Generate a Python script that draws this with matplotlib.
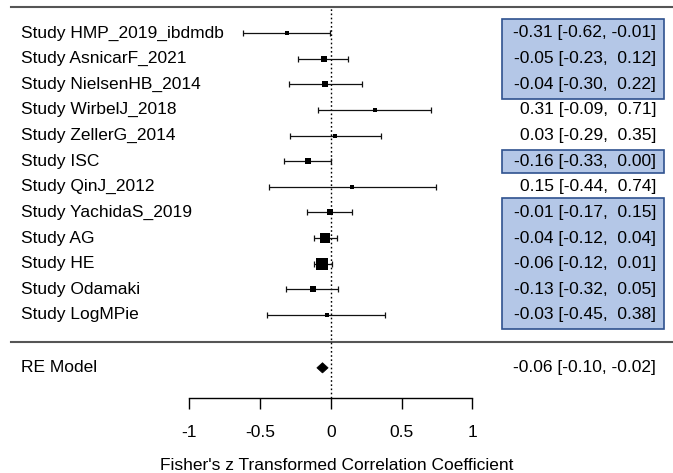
import numpy as np
import matplotlib
matplotlib.use("Agg")
import matplotlib.pyplot as plt
from matplotlib.patches import Rectangle, Polygon

plt.rcParams['font.family'] = ['Liberation Sans', 'DejaVu Sans']
plt.rcParams['axes.unicode_minus'] = False

studies = ["HMP_2019_ibdmdb", "AsnicarF_2021", "NielsenHB_2014", "WirbelJ_2018",
           "ZellerG_2014", "ISC", "QinJ_2012", "YachidaS_2019", "AG", "HE",
           "Odamaki", "LogMPie"]
est = [-0.31, -0.05, -0.04, 0.31, 0.03, -0.16, 0.15, -0.01, -0.04, -0.06, -0.13, -0.03]
lower = [-0.62, -0.23, -0.30, -0.09, -0.29, -0.33, -0.44, -0.17, -0.12, -0.12, -0.32, -0.45]
upper = [-0.01, 0.12, 0.22, 0.71, 0.35, 0.00, 0.74, 0.15, 0.04, 0.01, 0.05, 0.38]

re_label = "RE Model"
re_est, re_lower, re_upper = -0.06, -0.10, -0.02

# studies highlighted with the blue boxes
highlight_groups = [
    ["HMP_2019_ibdmdb", "AsnicarF_2021", "NielsenHB_2014"],
    ["ISC"],
    ["YachidaS_2019", "AG", "HE", "Odamaki", "LogMPie"],
]

x_ticks = [-1, -0.5, 0, 0.5, 1]
x_label = "Fisher's z Transformed Correlation Coefficient"

FS = 12.5


def fmt(e, l, u):
    return "%.2f [%5.2f, %5.2f]" % (e, l, u)


def main():
    fig = plt.figure(figsize=(6.73, 4.73), dpi=100)
    ax = fig.add_axes([0, 0, 1, 1])
    ax.set_xlim(-2.339, 2.417)
    ax.set_ylim(-5.162, 13.285)

    k = len(studies)
    rows = np.arange(k, 0, -1)
    est_a = np.array(est)
    lo_a = np.array(lower)
    up_a = np.array(upper)

    # square size from precision (1/se)
    prec = 3.92 / (up_a - lo_a)
    size_px = 3.6 + (prec - prec.min()) / (prec.max() - prec.min()) * 9

    # boxes
    row_of = dict(zip(studies, rows))
    for grp in highlight_groups:
        rr = [row_of[s] for s in grp]
        pad = 0.45 if len(rr) == 1 else 0.56
        top = max(rr) + pad
        bot = min(rr) - pad
        ax.add_patch(Rectangle((1.208, bot), 2.353 - 1.208, top - bot,
                               facecolor='#b4c7e7', edgecolor='#2f528f',
                               linewidth=1.2, zorder=1))

    # horizontal rules
    ax.plot([-2.26, 2.417], [k + 1, k + 1], color='#555555', lw=1.5, zorder=2)
    ax.plot([-2.26, 2.417], [-0.05, -0.05], color='#555555', lw=1.5, zorder=2)

    # reference line
    ax.plot([0, 0], [-2.24, k + 1], color='black', lw=1, linestyle=(0, (1.2, 1.8)), zorder=2)

    ax.errorbar(est_a, rows, xerr=[est_a - lo_a, up_a - est_a], fmt='none',
                ecolor='#111111', elinewidth=0.9, capsize=2.3, capthick=0.9, zorder=3)
    for x, y, s in zip(est_a, rows, size_px):
        ax.plot(x, y, marker='s', markersize=s * 0.72, color='black',
                markeredgewidth=0, zorder=4)

    h = 0.2
    ax.add_patch(Polygon([(re_lower, -1.06), (re_est, -1.06 + h), (re_upper, -1.06), (re_est, -1.06 - h)],
                         closed=True, facecolor='black', edgecolor='black', lw=0.5, zorder=4))

    for y, name, e, l, u in zip(rows, studies, est, lower, upper):
        ax.text(-2.191, y, "Study " + name, ha='left', va='center', fontsize=FS, zorder=5)
        ax.text(2.297, y, fmt(e, l, u), ha='right', va='center', fontsize=FS, zorder=5)
    ax.text(-2.191, -1.06, re_label, ha='left', va='center', fontsize=FS, zorder=5)
    ax.text(2.297, -1.06, fmt(re_est, re_lower, re_upper), ha='right', va='center', fontsize=FS, zorder=5)

    # x axis
    for sp in ['left', 'right', 'top']:
        ax.spines[sp].set_visible(False)
    ax.spines['bottom'].set_position(('data', -2.24))
    ax.spines['bottom'].set_bounds(-1, 1)
    ax.spines['bottom'].set_linewidth(1)
    ax.set_yticks([])
    ax.set_xticks(x_ticks)
    ax.set_xticklabels(["%g" % t for t in x_ticks])
    ax.tick_params(axis='x', direction='out', length=8, width=1, pad=11.5, labelsize=FS)
    ax.set_xlabel(x_label, fontsize=FS, labelpad=13)
    ax.patch.set_visible(False)

    fig.savefig("out.png", dpi=100)


if __name__ == '__main__':
    main()
